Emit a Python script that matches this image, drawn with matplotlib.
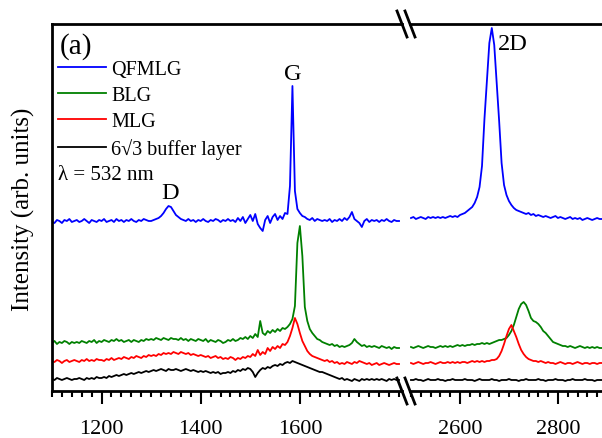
import numpy as np
import matplotlib.pyplot as plt
from matplotlib.ticker import MultipleLocator, FixedLocator
from matplotlib.lines import Line2D

plt.rcParams['font.family'] = ['Liberation Serif', 'DejaVu Serif']

# Raman shift samples (cm^-1), read every 5 cm^-1 off the figure
shift_lo = np.arange(1100, 1801, 5)
shift_hi = np.arange(2500, 2891, 5)

# intensities (arb. units, offset stacked as in the figure), 1100-1800
qfmlg_lo = [169, 168, 171, 170, 168, 171, 170, 172, 169, 170,
            171, 169, 170, 172, 170, 168, 171, 170, 169, 171,
            170, 172, 169, 170, 171, 169, 172, 170, 171, 169,
            171, 170, 172, 170, 169, 171, 170, 172, 171, 170,
            170, 171, 172, 173, 175, 178, 182, 185, 184, 180,
            176, 174, 172, 171, 170, 172, 170, 171, 169, 171,
            170, 172, 170, 169, 171, 170, 172, 171, 169, 171,
            170, 172, 170, 171, 169, 173, 170, 174, 168, 172,
            176, 170, 177, 167, 163, 160, 171, 175, 168, 174,
            177, 171, 175, 172, 178, 177, 205, 305, 200, 182,
            178, 175, 174, 172, 171, 173, 170, 172, 171, 170,
            171, 170, 172, 169, 171, 170, 172, 170, 173, 171,
            174, 179, 172, 170, 168, 164, 170, 172, 169, 171,
            170, 171, 169, 171, 170, 172, 170, 169, 171, 170,
            170]
blg_lo = [48, 50, 47, 49, 48, 50, 49, 47, 49, 48,
          49, 48, 50, 49, 48, 50, 49, 51, 48, 50,
          49, 51, 50, 49, 51, 50, 52, 50, 51, 49,
          50, 51, 49, 51, 50, 49, 51, 50, 52, 51,
          52, 51, 53, 52, 51, 53, 52, 51, 53, 52,
          52, 51, 53, 51, 52, 50, 52, 51, 50, 52,
          51, 50, 52, 49, 51, 50, 49, 51, 50, 48,
          49, 51, 50, 52, 50, 51, 53, 52, 54, 52,
          55, 53, 57, 54, 70, 58, 56, 60, 58, 61,
          59, 62, 60, 63, 62, 64, 67, 72, 85, 148,
          165, 135, 84, 70, 62, 58, 55, 52, 51, 49,
          48, 47, 46, 47, 45, 46, 44, 45, 44, 45,
          46, 48, 52, 49, 47, 45, 46, 44, 45, 44,
          45, 44, 43, 45, 44, 43, 44, 42, 44, 43,
          43]
mlg_lo = [30, 29, 31, 30, 28, 30, 31, 29, 30, 31,
          30, 29, 31, 30, 32, 30, 31, 30, 32, 31,
          31, 30, 32, 31, 33, 31, 32, 33, 32, 34,
          33, 32, 34, 33, 35, 34, 33, 35, 34, 36,
          35, 36, 35, 37, 36, 38, 37, 38, 37, 39,
          38, 37, 39, 38, 37, 38, 36, 37, 36, 35,
          36, 35, 34, 35, 33, 34, 35, 33, 34, 32,
          33, 32, 34, 33, 31, 33, 32, 34, 33, 35,
          34, 37, 35, 41, 36, 39, 37, 43, 40, 44,
          42, 45, 43, 47, 46, 49, 55, 63, 73, 67,
          58, 50, 45, 40, 37, 35, 34, 33, 32, 31,
          30, 31, 29, 30, 28, 29, 27, 28, 27, 29,
          28, 27, 29, 28, 30, 29, 28, 27, 28, 26,
          27, 28, 26, 27, 28, 27, 26, 27, 28, 27,
          27]
buffer_lo = [12, 11, 13, 12, 11, 12, 13, 12, 11, 12,
             12, 13, 12, 11, 13, 12, 13, 12, 14, 13,
             13, 14, 13, 15, 14, 15, 16, 15, 16, 17,
             16, 17, 18, 17, 18, 19, 18, 19, 20, 19,
             20, 21, 20, 21, 22, 21, 20, 22, 21, 21,
             22, 21, 20, 21, 22, 21, 20, 21, 20, 19,
             20, 19, 20, 19, 18, 19, 18, 19, 17, 18,
             18, 19, 18, 20, 19, 21, 20, 22, 21, 23,
             22, 19, 14, 18, 21, 23, 22, 24, 23, 25,
             26, 25, 27, 26, 28, 29, 28, 30, 29, 28,
             27, 26, 25, 24, 23, 22, 21, 20, 19, 19,
             18, 17, 16, 15, 14, 13, 12, 13, 11, 12,
             11, 10, 12, 11, 10, 12, 11, 12, 11, 12,
             11, 12, 11, 12, 11, 10, 12, 11, 12, 11,
             11]

# 2500-2890
qfmlg_hi = [173, 174, 172, 173, 174, 173, 172, 174, 173, 174,
            173, 174, 173, 174, 173, 174, 175, 174, 175, 174,
            176, 177, 178, 180, 182, 184, 188, 194, 204, 225,
            272, 310, 348, 363, 346, 308, 270, 228, 206, 196,
            190, 186, 183, 181, 180, 179, 178, 177, 178, 176,
            177, 175, 176, 175, 174, 175, 174, 173, 174, 175,
            173, 174, 173, 172, 173, 174, 172, 173, 172, 173,
            171, 172, 173, 172, 171, 172, 173, 172, 172]
blg_hi = [44, 43, 44, 45, 44, 43, 44, 45, 44, 44,
          43, 44, 45, 44, 45, 44, 45, 44, 45, 46,
          45, 46, 45, 46, 46, 47, 46, 47, 47, 48,
          47, 48, 47, 48, 49, 50, 51, 51, 52, 53,
          56, 60, 66, 74, 82, 87, 89, 86, 80, 73,
          70, 69, 67, 64, 60, 58, 55, 52, 49, 48,
          47, 46, 45, 45, 44, 45, 44, 43, 44, 45,
          44, 43, 44, 43, 44, 43, 44, 43, 43]
mlg_hi = [28, 27, 28, 29, 28, 27, 28, 28, 29, 28,
          27, 28, 29, 28, 28, 29, 28, 29, 28, 29,
          28, 29, 29, 28, 29, 30, 29, 30, 29, 30,
          29, 30, 30, 31, 31, 32, 35, 40, 47, 55,
          62, 66, 60, 54, 47, 41, 37, 34, 32, 31,
          30, 30, 29, 30, 29, 28, 29, 28, 28, 27,
          28, 29, 28, 27, 28, 28, 27, 28, 29, 28,
          27, 28, 28, 27, 28, 28, 27, 28, 28]
buffer_hi = [11, 11, 12, 11, 11, 10, 11, 12, 11, 11,
             11, 12, 11, 11, 10, 11, 11, 12, 11, 11,
             11, 11, 12, 11, 11, 11, 10, 11, 12, 11,
             11, 11, 11, 12, 11, 11, 10, 11, 11, 11,
             12, 11, 11, 11, 10, 11, 11, 12, 11, 11,
             11, 11, 12, 11, 11, 10, 11, 11, 11, 12,
             11, 11, 11, 10, 11, 11, 12, 11, 11, 11,
             11, 12, 11, 11, 11, 10, 11, 11, 11]

labels = ['QFMLG', 'BLG', 'MLG', '6\u221a3 buffer layer']
colors = ['#0000ff', '#008000', '#ff0000', '#000000']

W, H = 602, 439
fig = plt.figure(figsize=(W / 100, H / 100), dpi=100)
# pixel boxes of the two panels
ax1 = fig.add_axes([52 / W, (H - 392) / H, (402 - 52) / W, 367 / H])
ax2 = fig.add_axes([410 / W, (H - 392) / H, (602 - 410) / W, 367 / H])

for ax, x, ys in [(ax1, shift_lo, [qfmlg_lo, blg_lo, mlg_lo, buffer_lo]),
                  (ax2, shift_hi, [qfmlg_hi, blg_hi, mlg_hi, buffer_hi])]:
    for y, c, lab in zip(ys, colors, labels):
        ax.plot(x, y, color=c, lw=1.3, label=lab)
    ax.set_ylim(0, 367)
    ax.set_yticks([])
    for s in ax.spines.values():
        s.set_linewidth(2)
    ax.tick_params(axis='x', which='major', direction='out', length=9, width=1.5,
                   labelsize=16, pad=11, top=False)
    ax.tick_params(axis='x', which='minor', direction='out', length=4.5, width=1.5,
                   top=False)
    ax.xaxis.set_minor_locator(MultipleLocator(20))

ax1.set_xlim(1100, 1806)
ax1.xaxis.set_major_locator(FixedLocator([1200, 1400, 1600]))
ax1.spines['right'].set_visible(False)
ax2.set_xlim(2498, 2890)
ax2.xaxis.set_major_locator(FixedLocator([2600, 2800]))
ax2.spines['left'].set_visible(False)
ax2.spines['right'].set_visible(False)

# axis break marks
for yc in (25, 392):
    for x0 in (397, 405):
        fig.add_artist(Line2D([x0 / W, (x0 + 10) / W], [(H - yc + 13) / H, (H - yc - 13) / H],
                              transform=fig.transFigure, color='black', lw=2))

leg = ax1.legend(loc='upper left', bbox_to_anchor=(58 / W, 1 - 61 / H),
                 bbox_transform=fig.transFigure, frameon=False, fontsize=14.5,
                 handlelength=2.4, handletextpad=0.25, labelspacing=0.34,
                 borderpad=0, borderaxespad=0)

fig.text(60 / W, 1 - 47 / H, '(a)', fontsize=21, va='center', ha='left')
fig.text(58 / W, 1 - 176 / H, '\u03bb = 532 nm', fontsize=15, va='center', ha='left')
fig.text(170 / W, 1 - 194 / H, 'D', fontsize=17.5, va='center', ha='center')
fig.text(293 / W, 1 - 75 / H, 'G', fontsize=17.5, va='center', ha='center')
fig.text(513 / W, 1 - 45 / H, '2D', fontsize=17.5, va='center', ha='center')
fig.text(23 / W, 1 - 209 / H, 'Intensity (arb. units)', fontsize=18,
         rotation=90, va='center', ha='center')

fig.savefig('out.png', dpi=100)
